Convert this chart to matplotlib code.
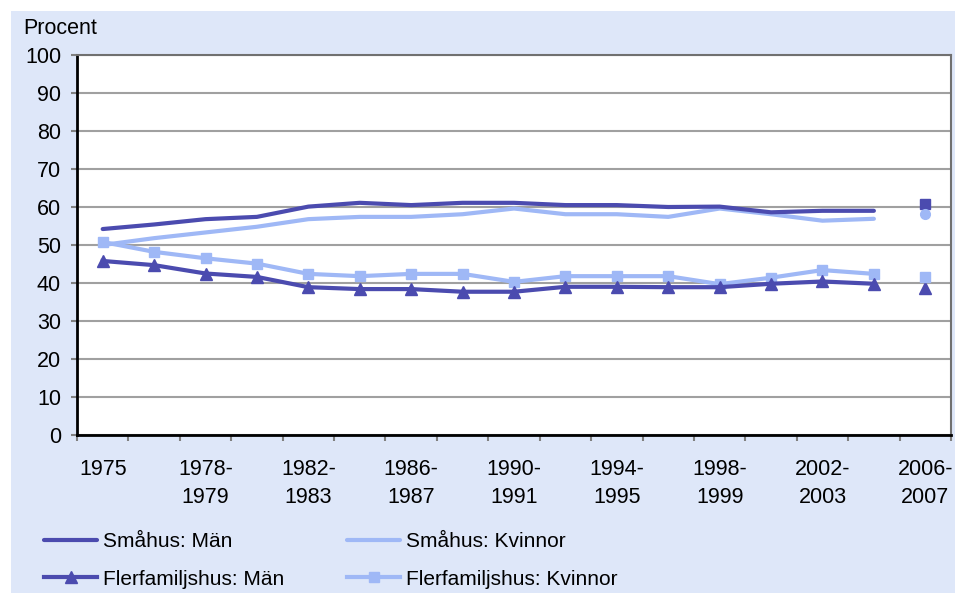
import matplotlib.pyplot as plt
from matplotlib.patches import Rectangle

plt.rcParams['font.family'] = ['Liberation Sans', 'DejaVu Sans']

perioder = ['1975', '1976-1977', '1978-1979', '1980-1981', '1982-1983', '1984-1985',
            '1986-1987', '1988-1989', '1990-1991', '1992-1993', '1994-1995', '1996-1997',
            '1998-1999', '2000-2001', '2002-2003', '2004-2005', '2006-2007']

smahus_man = [54.2, 55.4, 56.8, 57.4, 60.1, 61.1, 60.5, 61.1, 61.1, 60.5, 60.5, 60.0,
              60.1, 58.6, 59.0, 59.0, 60.8]
smahus_kvinnor = [50.0, 51.8, 53.3, 54.8, 56.8, 57.4, 57.4, 58.1, 59.6, 58.1, 58.1, 57.4,
                  59.6, 58.1, 56.4, 56.9, 58.2]
fler_man = [45.8, 44.7, 42.5, 41.6, 38.9, 38.4, 38.4, 37.7, 37.7, 39.0, 39.0, 38.9,
            38.9, 39.8, 40.4, 39.8, 38.8]
fler_kvinnor = [50.8, 48.2, 46.5, 45.1, 42.4, 41.8, 42.4, 42.4, 40.3, 41.8, 41.8, 41.8,
                39.7, 41.4, 43.4, 42.4, 41.5]

dark = '#4B4BAF'
light = '#9FB8F6'
bg = '#DEE7F9'
fs = 15.5

fig = plt.figure(figsize=(9.57, 5.93), dpi=100)
fig.patches.append(Rectangle((11 / 957, 0), 944 / 957, 582 / 593,
                             transform=fig.transFigure, facecolor=bg,
                             edgecolor='none', zorder=-10))
ax = fig.add_axes([77 / 957, 1 - 435 / 593, 874 / 957, 380 / 593])
ax.set_facecolor('white')

x = list(range(len(perioder)))
n = len(perioder) - 1

l1, = ax.plot(x[:n], smahus_man[:n], color=dark, lw=3, solid_capstyle='round',
              label='Småhus: Män', zorder=4)
l2, = ax.plot(x[:n], smahus_kvinnor[:n], color=light, lw=3, solid_capstyle='round',
              label='Småhus: Kvinnor', zorder=3)
l3, = ax.plot(x[:n], fler_man[:n], color=dark, lw=3, marker='^', ms=8,
              label='Flerfamiljshus: Män', zorder=4)
l4, = ax.plot(x[:n], fler_kvinnor[:n], color=light, lw=3, marker='s', ms=7,
              label='Flerfamiljshus: Kvinnor', zorder=3)

# sista perioden visas bara som punkter
ax.plot(x[n], smahus_man[n], marker='s', ms=7, color=dark, ls='none')
ax.plot(x[n], smahus_kvinnor[n], marker='o', ms=7, color=light, ls='none')
ax.plot(x[n], fler_man[n], marker='^', ms=8, color=dark, ls='none')
ax.plot(x[n], fler_kvinnor[n], marker='s', ms=7, color=light, ls='none')

ax.set_xlim(-0.5, len(perioder) - 0.5)
ax.set_ylim(0, 100)
ax.set_yticks(range(0, 101, 10))
ax.yaxis.grid(True, color='#A0A0A0', lw=1.5)
ax.set_axisbelow(True)

ax.set_xticks([i - 0.5 for i in range(len(perioder) + 1)])
ax.set_xticklabels([])
ax.set_xticks(x[::2], minor=True)
ax.set_xticklabels([p.replace('-', '-\n') for p in perioder[::2]], minor=True,
                   linespacing=1.46)
ax.tick_params(axis='x', which='minor', length=0, pad=17, labelsize=fs)
ax.tick_params(axis='x', which='major', length=4, color='#808080', width=1.5)
ax.tick_params(axis='y', length=4.5, color='#808080', width=1.5, pad=7, labelsize=fs)

for s in ['left', 'bottom']:
    ax.spines[s].set_color('black')
    ax.spines[s].set_linewidth(2)
for s in ['top', 'right']:
    ax.spines[s].set_color('#707070')
    ax.spines[s].set_linewidth(1.5)

fig.text(23 / 957, 1 - 28 / 593, 'Procent', fontsize=fs, va='center', ha='left')

fig.legend([l1, l3, l2, l4], [l1.get_label(), l3.get_label(), l2.get_label(), l4.get_label()],
           ncol=2, loc='upper left', bbox_to_anchor=(44 / 957, 1 - 532 / 593),
           frameon=False, fontsize=15, handlelength=2.55, handletextpad=0.3,
           columnspacing=3.0, labelspacing=0.9, numpoints=1, borderaxespad=0,
           borderpad=0)

fig.savefig('out.png', dpi=100)
